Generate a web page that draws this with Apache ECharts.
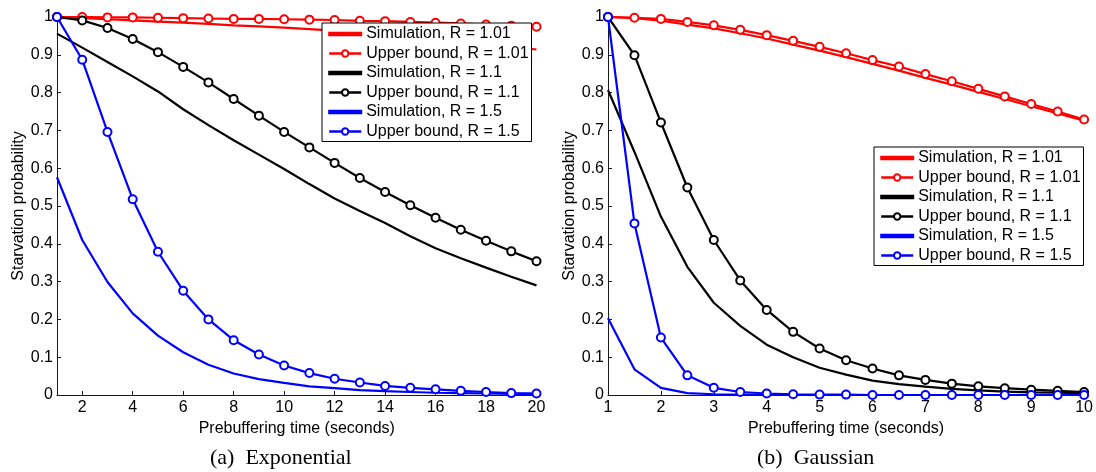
<!DOCTYPE html>
<html>
<head>
<meta charset="utf-8">
<script src="https://cdn.jsdelivr.net/npm/echarts@6/dist/echarts.min.js"></script>
<style>
html,body{margin:0;padding:0;background:#fff;}
#chart{width:1096px;height:472px;}
</style>
</head>
<body>
<div id="chart"></div>
<script>
// ---- data ----
const expTimes = [1,2,3,4,5,6,7,8,9,10,11,12,13,14,15,16,17,18,19,20];
const expTickValues = [2,4,6,8,10,12,14,16,18,20];
const gaussTimes = [1,1.5,2,2.5,3,3.5,4,4.5,5,5.5,6,6.5,7,7.5,8,8.5,9,9.5,10];
const gaussTickValues = [1,2,3,4,5,6,7,8,9,10];

const expSimR101 = [1,0.997,0.994,0.991,0.988,0.985,0.982,0.978,0.975,0.972,0.968,0.964,0.959,0.954,0.948,0.942,0.935,0.928,0.921,0.914];
const expUbR101  = [1,1.0,0.999,0.999,0.998,0.997,0.996,0.995,0.995,0.994,0.993,0.992,0.990,0.989,0.987,0.985,0.983,0.980,0.977,0.974];
const expSimR11  = [0.956,0.919,0.881,0.843,0.803,0.756,0.714,0.674,0.636,0.598,0.558,0.520,0.487,0.455,0.420,0.388,0.362,0.337,0.313,0.290];
const expUbR11   = [1,0.991,0.971,0.942,0.907,0.868,0.827,0.783,0.739,0.696,0.655,0.614,0.574,0.537,0.502,0.469,0.437,0.408,0.380,0.354];
const expSimR15  = [0.576,0.41,0.299,0.216,0.157,0.113,0.080,0.057,0.042,0.032,0.023,0.018,0.013,0.010,0.008,0.006,0.005,0.004,0.003,0.003];
const expUbR15   = [1,0.887,0.696,0.518,0.379,0.276,0.200,0.145,0.107,0.078,0.058,0.043,0.033,0.024,0.019,0.015,0.011,0.008,0.005,0.004];

const gaussSimR101 = [1.0,0.997,0.990,0.980,0.970,0.957,0.943,0.927,0.911,0.894,0.876,0.858,0.839,0.821,0.802,0.783,0.764,0.745,0.726];
const gaussUbR101  = [1.0,0.998,0.995,0.987,0.978,0.966,0.952,0.937,0.921,0.904,0.886,0.869,0.849,0.830,0.810,0.790,0.770,0.750,0.729];
const gaussSimR11  = [0.807,0.643,0.472,0.339,0.244,0.183,0.133,0.100,0.072,0.054,0.038,0.029,0.022,0.016,0.012,0.009,0.007,0.006,0.005];
const gaussUbR11   = [1.0,0.899,0.721,0.549,0.410,0.303,0.225,0.167,0.123,0.092,0.070,0.052,0.040,0.030,0.023,0.018,0.014,0.011,0.008];
const gaussSimR15  = [0.203,0.068,0.019,0.005,0.002,0.001,0,0,0,0,0,0,0,0,0,0,0,0,0];
const gaussUbR15   = [1.0,0.454,0.152,0.052,0.019,0.008,0.004,0.002,0.001,0.001,0,0,0,0,0,0,0,0,0];

const seriesNames = ['Simulation, R = 1.01','Upper bound, R = 1.01','Simulation, R = 1.1','Upper bound, R = 1.1','Simulation, R = 1.5','Upper bound, R = 1.5'];
const subtitles = ['(a)  Exponential','(b)  Gaussian'];
const yName = 'Starvation probability';
const xName = 'Prebuffering time (seconds)';

// ---- styling ----
const colors = ['#ff0000','#ff0000','#000000','#000000','#0000ff','#0000ff'];
const FONT = 'Liberation Sans, Arial, sans-serif';
const SERIF = 'Liberation Serif, Times New Roman, serif';
const AXC = '#1a1a1a';
const LINE_ICON = 'path://M0,0 L32,0 L32,2.4 L0,2.4 Z';

function pairs(xs, ys){ return xs.map((x,i)=>[x, ys[i]]); }

function mkSeries(idx, xs, ys, k){
  const isUb = k % 2 === 1;
  return {
    type:'line', name: seriesNames[k], xAxisIndex: idx, yAxisIndex: idx,
    data: pairs(xs, ys),
    symbol: isUb ? 'emptyCircle' : 'none',
    showSymbol: isUb, symbolSize: 8,
    lineStyle:{color: colors[k], width: 2.2},
    itemStyle:{color: colors[k], borderColor: colors[k], borderWidth: 2},
    emphasis:{disabled:true}, silent:true, z: 2 + k*0.01
  };
}

const expData = [expSimR101, expUbR101, expSimR11, expUbR11, expSimR15, expUbR15];
const gaussData = [gaussSimR101, gaussUbR101, gaussSimR11, gaussUbR11, gaussSimR15, gaussUbR15];

function xAxisCfg(idx, min, max, ticks){
  return {
    type:'value', gridIndex: idx, min: min, max: max,
    name: xName, nameLocation:'middle', nameGap: 21,
    nameTextStyle:{fontFamily:FONT, fontSize:16, color:'#000'},
    axisLine:{show:true, lineStyle:{color:AXC, width:1}},
    axisTick:{show:true, inside:true, length:4, customValues: ticks, lineStyle:{color:AXC}},
    axisLabel:{customValues: ticks, fontFamily:FONT, fontSize:16, color:'#000', margin:5, showMinLabel:true, showMaxLabel:true},
    splitLine:{show:false}
  };
}
function yAxisCfg(idx){
  return {
    type:'value', gridIndex: idx, min:0, max:1, interval:0.1,
    name: yName, nameLocation:'middle', nameGap: 29, nameRotate: 90,
    nameTextStyle:{fontFamily:FONT, fontSize:16, color:'#000'},
    axisLine:{show:true, lineStyle:{color:AXC, width:1}},
    axisTick:{show:true, inside:true, length:4, lineStyle:{color:AXC}},
    axisLabel:{fontFamily:FONT, fontSize:16, color:'#000', margin:4,
      formatter: v => (Math.abs(v) < 1e-9 ? '0' : (Math.abs(v-1) < 1e-9 ? '1' : v.toFixed(1)))},
    splitLine:{show:false}
  };
}
function legendCfg(left, top){
  return {
    left: left, top: top, orient:'vertical',
    data: seriesNames.map((n,k)=> (k % 2 === 0 ? {name:n, icon: LINE_ICON} : {name:n})),
    backgroundColor:'#fff', borderColor:'#000', borderWidth:1, borderRadius:0,
    padding:[3,3,2,6], itemGap:3.5, itemWidth:32, itemHeight:8, symbolKeepAspect:true,
    lineStyle:{width:2.4},
    textStyle:{fontFamily:FONT, fontSize:16, color:'#000', lineHeight:16},
    selectedMode:false, z: 10
  };
}

const series = [];
expData.forEach((ys,k)=>series.push(mkSeries(0, expTimes, ys, k)));
gaussData.forEach((ys,k)=>series.push(mkSeries(1, gaussTimes, ys, k)));

const chart = echarts.init(document.getElementById('chart'), null, {renderer:'canvas'});
chart.setOption({
  animation:false,
  backgroundColor:'#fff',
  title:[
    {text: subtitles[0], left: 210, top: 447, textStyle:{fontFamily:SERIF, fontSize:22, fontWeight:'normal', color:'#000'}, padding:0},
    {text: subtitles[1], left: 757, top: 447, textStyle:{fontFamily:SERIF, fontSize:22, fontWeight:'normal', color:'#000'}, padding:0}
  ],
  grid:[
    {left:57, top:17, width:479.5, height:378},
    {left:608, top:17, width:479.7, height:378}
  ],
  xAxis:[ xAxisCfg(0, 1, 20, expTickValues), xAxisCfg(1, 1, 10, gaussTickValues) ],
  yAxis:[ yAxisCfg(0), yAxisCfg(1) ],
  legend:[ legendCfg(322, 23), legendCfg(874, 147) ],
  series: series
});
</script>
</body>
</html>
